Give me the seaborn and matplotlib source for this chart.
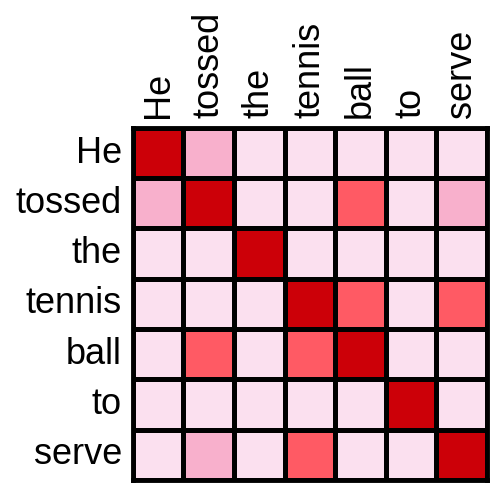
import numpy as np
import pandas as pd
import matplotlib
matplotlib.use("Agg")
import matplotlib.pyplot as plt
import seaborn as sns
from matplotlib.colors import ListedColormap

# datos: palabras y nivel de atencion (0-3)
palabras = ["He", "tossed", "the", "tennis", "ball", "to", "serve"]
fila_he = [3, 1, 0, 0, 0, 0, 0]
fila_tossed = [1, 3, 0, 0, 2, 0, 1]
fila_the = [0, 0, 3, 0, 0, 0, 0]
fila_tennis = [0, 0, 0, 3, 2, 0, 2]
fila_ball = [0, 2, 0, 2, 3, 0, 0]
fila_to = [0, 0, 0, 0, 0, 3, 0]
fila_serve = [0, 1, 0, 2, 0, 0, 3]

df = pd.DataFrame([fila_he, fila_tossed, fila_the, fila_tennis,
                   fila_ball, fila_to, fila_serve],
                  index=palabras, columns=palabras)

sns.set_theme(style="white")
plt.rcParams["font.family"] = ["Liberation Sans", "DejaVu Sans"]

colores = ListedColormap(["#fbe0ef", "#f8b0cc", "#ff5a64", "#cc0008"])

fig = plt.figure(figsize=(4.94, 4.87), dpi=100)
ax = fig.add_axes([0.269, 0.0144, 0.717, 0.723])

sns.heatmap(df, cmap=colores, vmin=-0.5, vmax=3.5, cbar=False,
            linewidths=3.5, linecolor="black", square=False, ax=ax)

ax.xaxis.tick_top()
ax.xaxis.set_label_position("top")
ax.set_xticklabels(palabras, rotation=90, fontsize=26, color="black")
ax.set_yticklabels(palabras, rotation=0, fontsize=26, color="black")
ax.tick_params(axis="x", length=0, pad=7)
ax.tick_params(axis="y", length=0, pad=8)
ax.set_xlabel("")
ax.set_ylabel("")

for s in ax.spines.values():
    s.set_visible(True)
    s.set_color("black")
    s.set_linewidth(3.5)

fig.savefig("out.png", dpi=100)
